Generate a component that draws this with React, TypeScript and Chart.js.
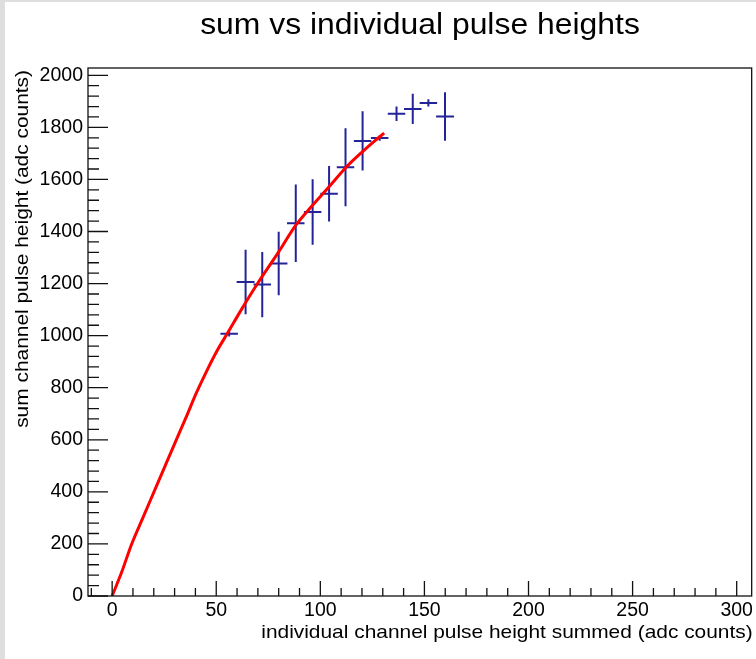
import React, { useEffect, useRef } from "react";
import { Chart, registerables } from "chart.js";

Chart.register(...registerables);

// ---- text ----
const chartTitle = "sum vs individual pulse heights";
const xAxisTitle = "individual channel pulse height summed (adc counts)";
const yAxisTitle = "sum channel pulse height (adc counts)";

// ---- axes ----
const xMin = -11.6;
const xMax = 307.2;
const yMin = 0;
const yMax = 2028;
const xTickValues = [0, 50, 100, 150, 200, 250, 300];
const yTickValues = [0, 200, 400, 600, 800, 1000, 1200, 1400, 1600, 1800, 2000];
const xMinorStep = 10;
const yMinorStep = 40;

// ---- measured points with errors ----
const pointX = [56.2, 64.1, 72.1, 80.0, 88.2, 96.3, 104.2, 112.1, 120.3, 128.5, 136.6, 144.4, 151.9, 159.9];
const pointY = [1007, 1206, 1196, 1277, 1432, 1475, 1545, 1647, 1748, 1759, 1852, 1871, 1894, 1842];
const pointXErr = [4.2, 4.3, 4.2, 4.2, 4.2, 4.2, 4.2, 4.2, 4.2, 4.2, 4.2, 4.2, 4.2, 4.3];
const pointYErr = [10, 124, 125, 122, 149, 126, 107, 150, 114, 10, 28, 58, 14, 93];

// ---- red curve ----
const curveX = [0, 4.5, 9.3, 14.9, 20.1, 25.3, 30.4, 35.6, 40.4, 45.4, 50.4, 55.6, 62.0, 70.0, 79.6, 88.4, 95.5, 104.3, 112.3, 120.3, 126.0, 130.7];
const curveY = [0, 90, 198, 303, 400, 497, 592, 688, 779, 864, 942, 1012, 1099, 1202, 1317, 1426, 1494, 1573, 1646, 1707, 1747, 1778];

const FONT = "'Liberation Sans', Arial, Helvetica, sans-serif";
const ERR_COLOR = "#23239a";
const CURVE_COLOR = "#ff0000";

function drawStretchedText(ctx: any, text: string, x: number, y: number, size: number, stretch: number, align: string, rotate: number) {
  ctx.save();
  ctx.translate(x, y);
  if (rotate) ctx.rotate(rotate);
  ctx.scale(stretch, 1);
  ctx.font = `${size}px ${FONT}`;
  ctx.fillStyle = "#000";
  ctx.textAlign = align;
  ctx.textBaseline = "alphabetic";
  ctx.fillText(text, 0, 0);
  ctx.restore();
}

const rootStyle = {
  id: "rootStyle",
  beforeDatasetsDraw(chart: any) {
    const { ctx, chartArea, scales } = chart;
    const xs = scales.x;
    const ys = scales.y;
    ctx.save();
    ctx.beginPath();
    ctx.rect(chartArea.left, chartArea.top, chartArea.right - chartArea.left, chartArea.bottom - chartArea.top);
    ctx.clip();
    ctx.strokeStyle = ERR_COLOR;
    ctx.lineWidth = 2;
    ctx.lineCap = "butt";
    for (let i = 0; i < pointX.length; i++) {
      const px = xs.getPixelForValue(pointX[i]);
      const py = ys.getPixelForValue(pointY[i]);
      const x0 = xs.getPixelForValue(pointX[i] - pointXErr[i]);
      const x1 = xs.getPixelForValue(pointX[i] + pointXErr[i]);
      const y0 = ys.getPixelForValue(pointY[i] - pointYErr[i]);
      const y1 = ys.getPixelForValue(pointY[i] + pointYErr[i]);
      ctx.beginPath();
      ctx.moveTo(x0, py);
      ctx.lineTo(x1, py);
      ctx.moveTo(px, y0);
      ctx.lineTo(px, y1);
      ctx.stroke();
    }
    ctx.restore();
  },
  afterDraw(chart: any) {
    const { ctx, chartArea, scales } = chart;
    const xs = scales.x;
    const ys = scales.y;
    const { left, right, top, bottom } = chartArea;
    ctx.save();
    ctx.strokeStyle = "#111";
    ctx.lineWidth = 1.3;
    ctx.strokeRect(left, top, right - left, bottom - top);

    // x ticks (pointing up, inside)
    ctx.beginPath();
    const xStart = Math.ceil(xs.min / xMinorStep) * xMinorStep;
    for (let v = xStart; v <= xs.max + 1e-9; v += xMinorStep) {
      const isMajor = xTickValues.includes(v);
      const p = xs.getPixelForValue(v);
      ctx.moveTo(p, bottom);
      ctx.lineTo(p, bottom - (isMajor ? 15 : 8));
    }
    // y ticks (pointing right, inside)
    const yStart = Math.ceil(ys.min / yMinorStep) * yMinorStep;
    for (let v = yStart; v <= ys.max + 1e-9; v += yMinorStep) {
      const isMajor = yTickValues.includes(v);
      const p = ys.getPixelForValue(v);
      ctx.moveTo(left, p);
      ctx.lineTo(left + (isMajor ? 20 : 11), p);
    }
    ctx.stroke();
    ctx.restore();

    // titles
    drawStretchedText(ctx, chartTitle, 415, 32, 29, 1.1, "center", 0);
    drawStretchedText(ctx, xAxisTitle, right + 1, 636, 19, 1.1, "right", 0);
    drawStretchedText(ctx, yAxisTitle, 23, top + 2, 19, 1.1, "right", -Math.PI / 2);
  },
};

export default function App() {
  const canvasRef = useRef<HTMLCanvasElement | null>(null);

  useEffect(() => {
    document.body.style.margin = "0";
    const canvas = canvasRef.current;
    if (!canvas) return;
    const chart = new Chart(canvas, {
      type: "scatter",
      data: {
        datasets: [
          {
            label: "data",
            data: pointX.map((x, i) => ({ x, y: pointY[i] })),
            pointRadius: 0,
            showLine: false,
            borderColor: ERR_COLOR,
            backgroundColor: ERR_COLOR,
          },
          {
            label: "curve",
            data: curveX.map((x, i) => ({ x, y: curveY[i] })),
            showLine: true,
            pointRadius: 0,
            borderColor: CURVE_COLOR,
            borderWidth: 3,
            cubicInterpolationMode: "monotone",
            fill: false,
          },
        ],
      },
      options: {
        animation: false,
        responsive: false,
        maintainAspectRatio: false,
        devicePixelRatio: 1,
        layout: { padding: { left: 0, top: 66, right: 2, bottom: 0 } },
        plugins: {
          legend: { display: false },
          title: { display: false },
          tooltip: { enabled: false },
        },
        scales: {
          x: {
            type: "linear",
            min: xMin,
            max: xMax,
            grid: { display: false, drawTicks: false },
            border: { display: false },
            afterBuildTicks: (s: any) => {
              s.ticks = xTickValues.map((v) => ({ value: v }));
            },
            afterFit: (s: any) => {
              s.height = 63;
            },
            ticks: {
              autoSkip: false,
              maxRotation: 0,
              padding: 3,
              color: "#000",
              font: { family: FONT, size: 19.5 },
              callback: (v: any) => String(v),
            },
            title: { display: false },
          },
          y: {
            type: "linear",
            min: yMin,
            max: yMax,
            grid: { display: false, drawTicks: false },
            border: { display: false },
            afterBuildTicks: (s: any) => {
              s.ticks = yTickValues.map((v) => ({ value: v }));
            },
            afterFit: (s: any) => {
              s.width = 83;
            },
            ticks: {
              autoSkip: false,
              padding: 5,
              color: "#000",
              font: { family: FONT, size: 19.5 },
              callback: (v: any) => String(v),
            },
            title: { display: false },
          },
        },
      },
      plugins: [rootStyle],
    });
    return () => chart.destroy();
  }, []);

  return (
    <div style={{ position: "relative", width: 756, height: 659, background: "#dedede", overflow: "hidden" }}>
      <canvas
        ref={canvasRef}
        width={751}
        height={657}
        style={{ position: "absolute", left: 5, top: 2, width: 751, height: 657, background: "#fff" }}
      />
    </div>
  );
}
